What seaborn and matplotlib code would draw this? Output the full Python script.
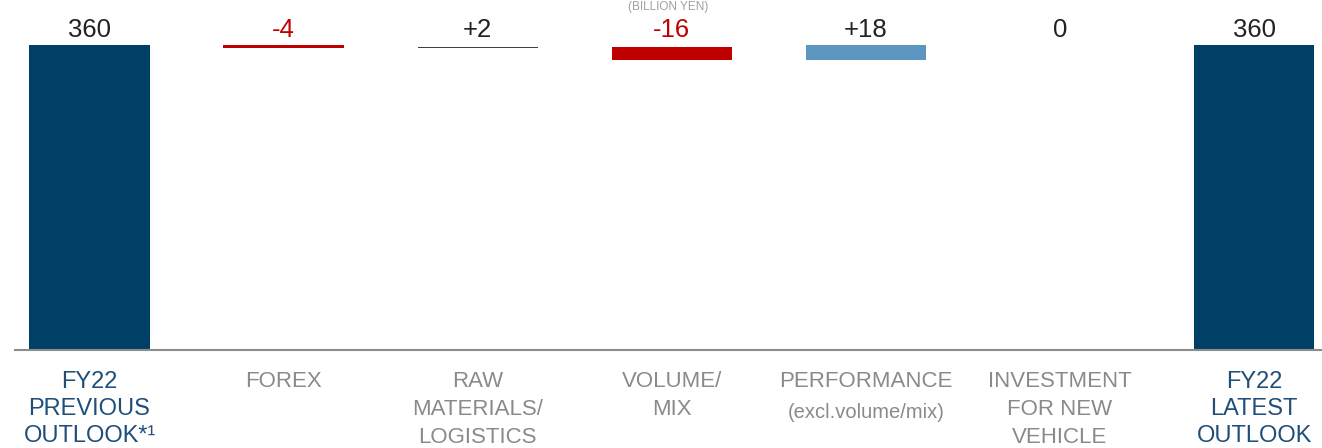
import matplotlib
matplotlib.use('Agg')
import matplotlib.pyplot as plt
import seaborn as sns
import pandas as pd

# FY22 operating profit bridge (billion yen)
categories = ["FY22\nPREVIOUS\nOUTLOOK*¹", "FOREX", "RAW\nMATERIALS/\nLOGISTICS",
              "VOLUME/\nMIX", "PERFORMANCE", "INVESTMENT\nFOR NEW\nVEHICLE",
              "FY22\nLATEST\nOUTLOOK"]
values = [360, -4, 2, -16, 18, 0, 360]
is_total = [True, False, False, False, False, False, True]
value_labels = ["360", "-4", "+2", "-16", "+18", "0", "360"]

bar_colors = ["#003F66", "#C00000", "#404040", "#C00000", "#5A96C0", "#FFFFFF", "#003F66"]
value_colors = ["#222222", "#C00000", "#222222", "#C00000", "#222222", "#222222", "#222222"]
cat_colors = ["#1F4E79", "#8A8A8A", "#8A8A8A", "#8A8A8A", "#8A8A8A", "#8A8A8A", "#1F4E79"]

# waterfall base / top
bases, tops = [], []
running = 0
for v, tot in zip(values, is_total):
    if tot:
        bases.append(0)
        tops.append(v)
        running = v
    else:
        bases.append(min(running, running + v))
        tops.append(max(running, running + v))
        running += v

df = pd.DataFrame({"item": categories, "top": tops})

sns.set_style("white")
plt.rcParams["font.family"] = ["Liberation Sans", "DejaVu Sans"]

fig = plt.figure(figsize=(13.22, 4.48), dpi=100)
ax = fig.add_axes([15 / 1322, 98 / 448, 1 - 15 / 1322, 350 / 448])

sns.barplot(data=df, x="item", y="top", hue="item", palette=bar_colors,
            width=0.62, saturation=1, linewidth=0, legend=False, ax=ax)

# move floating bars onto their bases
for p, b, t in zip(ax.patches, bases, tops):
    p.set_y(b)
    p.set_height(t - b)

label_level = max(tops)
for i, (txt, c) in enumerate(zip(value_labels, value_colors)):
    ax.annotate(txt, xy=(i, label_level), xytext=(0, 6), textcoords="offset points",
                ha="center", va="baseline", fontsize=18.5, color=c)

ax.set_xlim(-0.384, 6.35)
ax.set_ylim(0, 413)
ax.set_xlabel("")
ax.set_ylabel("")
ax.set_yticks([])
for s in ["top", "left", "right"]:
    ax.spines[s].set_visible(False)
ax.spines["bottom"].set_color("#8C8C8C")
ax.spines["bottom"].set_linewidth(1.5)

ax.tick_params(axis="x", length=0, pad=15)
for lbl, c, tot in zip(ax.get_xticklabels(), cat_colors, is_total):
    lbl.set_color(c)
    if tot:
        lbl.set_fontsize(17)
        lbl.set_linespacing(1.3)
    else:
        lbl.set_fontsize(16)
        lbl.set_linespacing(1.45)

ax.annotate("(excl.volume/mix)", xy=(4, 0), xytext=(0, -38), textcoords="offset points",
            ha="center", va="top", fontsize=14.5, color="#8A8A8A")

fig.text(668 / 1322, 1 - 1 / 448, "(BILLION YEN)", ha="center", va="top",
         fontsize=8.5, color="#A0A0A0")

fig.savefig("out.png", dpi=100)
